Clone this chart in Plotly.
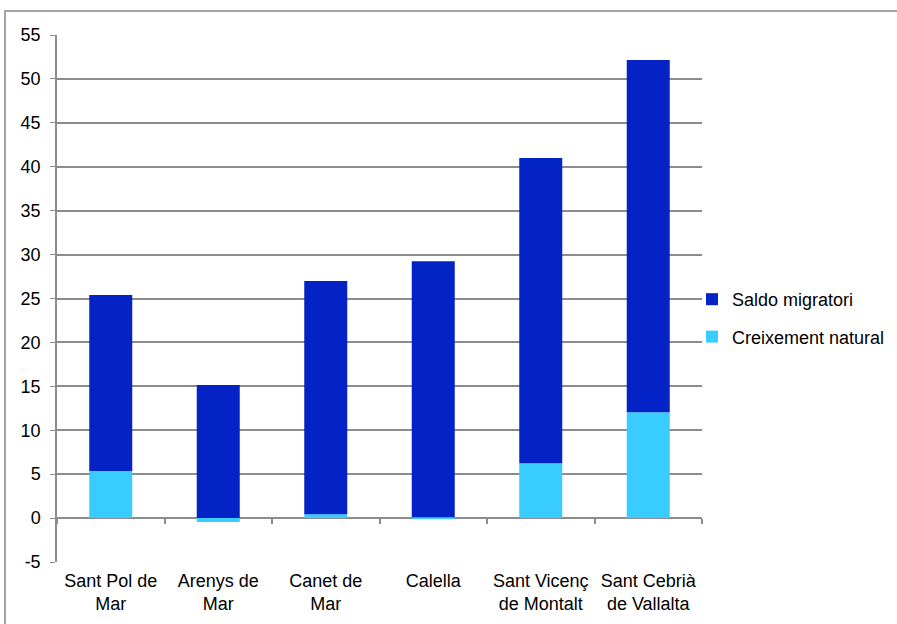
import plotly.graph_objects as go

categories = ["Sant Pol de<br>Mar", "Arenys de<br>Mar", "Canet de<br>Mar", "Calella",
              "Sant Vicenç<br>de Montalt", "Sant Cebrià<br>de Vallalta"]
creixement_natural = [5.35, -0.45, 0.45, 0.1, 6.25, 12.05]
saldo_migratori = [20.05, 15.15, 26.55, 29.15, 34.75, 40.1]
y_ticks = list(range(-5, 60, 5))
y_tick_labels = [str(v) for v in y_ticks]

DARK = "#0323C6"
LIGHT = "#38CCFF"
GRID = "#8C8C8C"
FONT = "Liberation Sans, Arial, sans-serif"

fig = go.Figure()
fig.add_trace(go.Bar(x=categories, y=creixement_natural, name="Creixement natural",
                     legendgroup="c", legendrank=2,
                     marker=dict(color=LIGHT, line=dict(width=0)), width=0.4))
fig.add_trace(go.Bar(x=categories, y=saldo_migratori, name="Saldo migratori",
                     legendgroup="s", legendrank=1,
                     marker=dict(color=DARK, line=dict(width=0)), width=0.4))
# invisible helper trace for the tick-mark axis at y = 0
fig.add_trace(go.Scatter(x=categories, y=[0] * len(categories), xaxis="x2", yaxis="y",
                         mode="markers", marker=dict(opacity=0), showlegend=False,
                         hoverinfo="skip"))

fig.update_layout(
    barmode="relative",
    width=897, height=624,
    margin=dict(l=57, r=195, t=35, b=62, autoexpand=False),
    paper_bgcolor="white", plot_bgcolor="white",
    font=dict(family=FONT, size=18, color="black"),
    showlegend=True,
    legend=dict(x=(692 - 57) / 645, y=(562 - 318) / 527, xanchor="left", yanchor="middle",
                traceorder="grouped", font=dict(size=18), itemwidth=30,
                tracegroupgap=11, bgcolor="rgba(0,0,0,0)"),
    xaxis=dict(showline=False, showgrid=False, ticks="", tickfont=dict(size=18),
               domain=[0, 1], ticklabelstandoff=6),
    xaxis2=dict(overlaying="x", matches="x", anchor="free", position=5 / 60,
                showticklabels=False, showline=False, ticks="outside",
                tickson="boundaries", ticklen=5, tickcolor=GRID, tickwidth=1.5,
                showgrid=False),
    yaxis=dict(range=[-5, 55], tickvals=y_ticks, ticktext=y_tick_labels,
               showgrid=True, gridcolor=GRID,
               gridwidth=1.5, zeroline=True, zerolinecolor=GRID, zerolinewidth=2,
               showline=True, linecolor=GRID, linewidth=1.5, ticks="outside",
               ticklen=5, tickcolor=GRID, tickfont=dict(size=18),
               ticklabelstandoff=6),
    shapes=[dict(type="rect", xref="paper", yref="paper",
                 x0=(5 - 57) / 645, x1=(905 - 57) / 645,
                 y0=(562 - 640) / 527, y1=(562 - 11) / 527,
                 line=dict(color="#888888", width=1.5), fillcolor="rgba(0,0,0,0)",
                 layer="below")],
)

fig.write_html("out.html")
